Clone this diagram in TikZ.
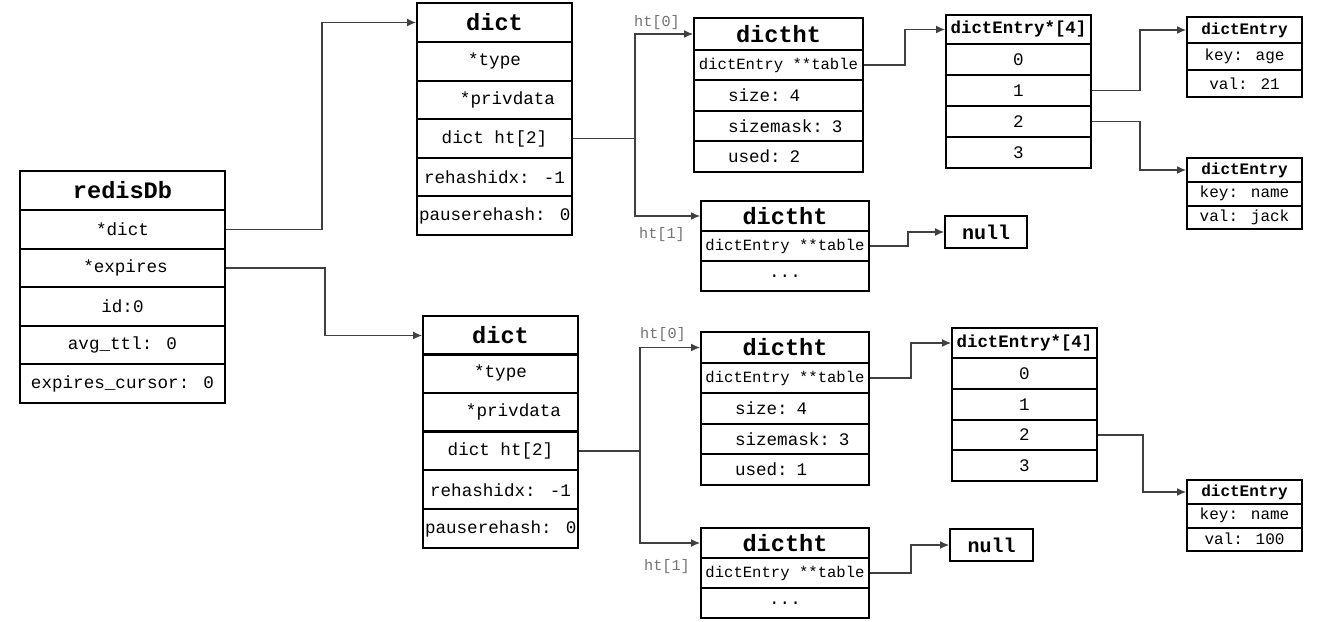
\documentclass[tikz,border=0pt]{standalone}
\usepackage{fontspec}
\setmainfont{Liberation Mono}
\usetikzlibrary{calc,arrows.meta}

\begin{document}
\begin{tikzpicture}[x=0.5pt,y=-0.5pt,inner sep=1pt]
    \tikzstyle{box}=[rectangle,draw=black,line width=1pt,anchor=north west]
    \tikzstyle{head}=[box,font=\fontsize{11.8}{12}\selectfont\bfseries]
    \tikzstyle{cell}=[box,font=\fontsize{8.8}{10}\selectfont]
    \tikzstyle{tcell}=[box,font=\fontsize{7.8}{9}\selectfont]
    \tikzstyle{lcell}=[cell,align=left]
    \tikzstyle{ehead}=[box,font=\fontsize{8}{9}\selectfont\bfseries,minimum width=57.5pt]
    \tikzstyle{ecell}=[box,font=\fontsize{8}{9}\selectfont,minimum width=57.5pt]
    \tikzstyle{nullbox}=[box,font=\fontsize{10}{12}\selectfont\bfseries,minimum height=16pt]
    \tikzstyle{link}=[draw=black!75,line width=0.6pt,-{Latex[length=4.5pt,width=4pt]}]
    \tikzstyle{htlabel}=[font=\fontsize{7.6}{9}\selectfont,text=black!55]

    \useasboundingbox (0,0) rectangle (1333,621);

    % redisDb
    \node[head,minimum width=102.5pt,minimum height=19.5pt] (db) at (19,170) {redisDb};
    \foreach \txt [count=\k] in {*dict,\hspace*{3pt}*expires,id:0,avg\_ttl: 0,expires\_cursor: 0}
        \node[cell,minimum width=102.5pt,minimum height=19.33pt] (db\k) at (19,{209+(\k-1)*38.6}) {\txt};

    % dict (db->dict)
    \node[head,minimum width=77.5pt,minimum height=19.5pt] (dA) at (416,2) {dict};
    \foreach \txt [count=\k] in {*type,\hspace*{13pt}*privdata,dict ht[2],rehashidx: -1,pauserehash: 0}
        \node[cell,minimum width=77.5pt,minimum height=19.33pt] (dA\k) at (416,{41+(\k-1)*38.6}) {\txt};

    % dict (db->expires)
    \node[head,minimum width=77.5pt,minimum height=19.5pt] (dB) at (422,315) {dict};
    \foreach \txt [count=\k] in {*type,\hspace*{13pt}*privdata,dict ht[2],rehashidx: -1,pauserehash: 0}
        \node[cell,minimum width=77.5pt,minimum height=19.33pt] (dB\k) at (422,{353+(\k-1)*38.8}) {\txt};

    % dictht of the first dict
    \node[head,minimum width=84.5pt,minimum height=16pt] (htA0) at (693,17) {dictht};
    \node[tcell,minimum width=84.5pt,minimum height=15pt] (htA0t) at (693,49) {dictEntry **table};
    \foreach \txt [count=\k] in {size: 4,sizemask: 3,used: 2}
        \node[lcell,text width=82.5pt,minimum height=15.33pt] (htA0\k) at (693,{79+(\k-1)*30.67}) {\hspace*{16pt}\txt};

    \node[head,minimum width=84pt,minimum height=15pt] (htA1) at (700,200) {dictht};
    \node[tcell,minimum width=84pt,minimum height=15pt] (htA1t) at (700,230) {dictEntry **table};
    \node[cell,minimum width=84pt,minimum height=15pt] (htA1d) at (700,260) {...};

    % dictht of the second dict
    \node[head,minimum width=84pt,minimum height=15.5pt] (htB0) at (700,331) {dictht};
    \node[tcell,minimum width=84pt,minimum height=15pt] (htB0t) at (700,362) {dictEntry **table};
    \foreach \txt [count=\k] in {size: 4,sizemask: 3,used: 1}
        \node[lcell,text width=82pt,minimum height=15.33pt] (htB0\k) at (700,{392+(\k-1)*30.67}) {\hspace*{16pt}\txt};

    \node[head,minimum width=84pt,minimum height=15pt] (htB1) at (700,527) {dictht};
    \node[tcell,minimum width=84pt,minimum height=15pt] (htB1t) at (700,557) {dictEntry **table};
    \node[cell,minimum width=84pt,minimum height=15pt] (htB1d) at (700,587) {...};

    % tables
    \node[box,font=\fontsize{8.7}{10}\selectfont\bfseries,minimum width=72.5pt,minimum height=14.5pt] (arrA) at (945,14) {dictEntry*[4]};
    \foreach \k in {0,...,3}
        \node[cell,minimum width=72.5pt,minimum height=15.5pt] (arrA\k) at (945,{43+\k*31}) {\k};

    \node[box,font=\fontsize{8.7}{10}\selectfont\bfseries,minimum width=72.5pt,minimum height=15pt] (arrB) at (951,327) {dictEntry*[4]};
    \foreach \k in {0,...,3}
        \node[cell,minimum width=72.5pt,minimum height=15.4pt] (arrB\k) at (951,{357+\k*30.8}) {\k};

    \node[nullbox,minimum width=41pt] (nullA) at (944,215) {null};
    \node[nullbox,minimum width=41.5pt] (nullB) at (949,528) {null};

    % entries
    \node[ehead,minimum height=13pt] (entA) at (1186,16) {dictEntry};
    \node[ecell,minimum height=13.5pt] (entA1) at (1186,42) {key: age};
    \node[ecell,minimum height=13.5pt] (entA2) at (1186,69) {val: 21};

    \node[ehead,minimum height=12pt] (entB) at (1186,157) {dictEntry};
    \node[ecell,minimum height=11.75pt] (entB1) at (1186,181) {key: name};
    \node[ecell,minimum height=11.75pt] (entB2) at (1186,204.5) {val: jack};

    \node[ehead,minimum height=12pt] (entC) at (1186,479) {dictEntry};
    \node[ecell,minimum height=11.75pt] (entC1) at (1186,503) {key: name};
    \node[ecell,minimum height=11.75pt] (entC2) at (1186,526.5) {val: 100};

    % links
    \draw[link] (db1.east) -- ++(96,0) |- (dA.west);
    \draw[link] (db2.east) -- ++(99,0) |- (dB.west);

    \draw[link] (dA3.east) -- ++(62,0) coordinate (jA) |- (htA0.west);
    \draw[link] (jA) |- (htA1.west);
    \draw[link] (dB3.east) -- ++(61,0) coordinate (jB) |- (htB0.west);
    \draw[link] (jB) |- (htB1.west);

    \node[htlabel] (lA0) at ($(htA0.west)+(-36,-11)$) {ht[0]};
    \node[htlabel] (lA1) at ($(htA1.west)+(-38,19)$) {ht[1]};
    \node[htlabel] (lB0) at ($(htB0.west)+(-37,-13)$) {ht[0]};
    \node[htlabel] (lB1) at ($(htB1.west)+(-33,24)$) {ht[1]};

    \draw[link] (htA0t.east) -- ++(41,0) |- (arrA.west);
    \draw[link] (htA1t.east) -- ++(38,0) |- (nullA.west);
    \draw[link] (htB0t.east) -- ++(41,0) |- (arrB.west);
    \draw[link] (htB1t.east) -- ++(41,0) |- (nullB.west);

    \draw[link] (arrA1.east) -- ++(48,0) |- (entA.west);
    \draw[link] (arrA2.east) -- ++(48,0) |- (entB.west);
    \draw[link] (arrB2.east) -- ++(45,0) |- (entC.west);
\end{tikzpicture}
\end{document}
